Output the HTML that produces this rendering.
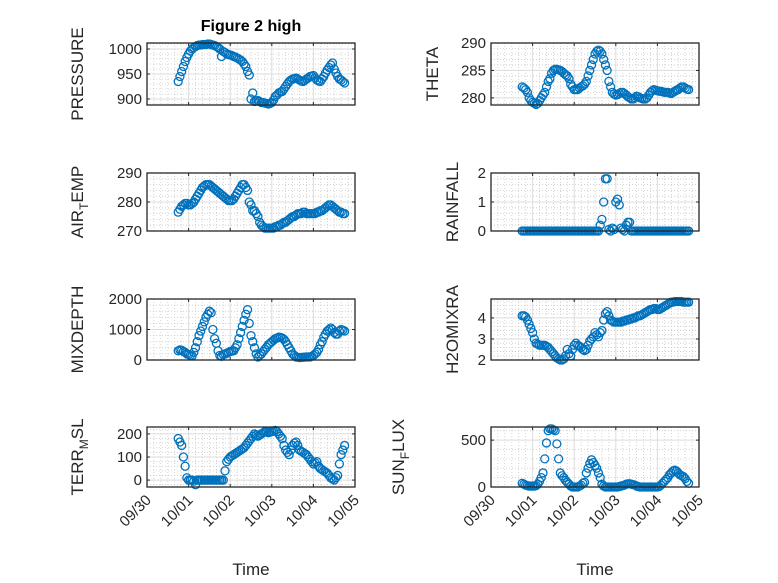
<!DOCTYPE html>
<html><head><meta charset="utf-8">
<style>
html,body{margin:0;padding:0;background:#fff;}
svg{display:block;font-family:"Liberation Sans","DejaVu Sans",sans-serif;}
</style></head>
<body>
<svg id="fig" width="778" height="583" viewBox="0 0 778 583" xmlns="http://www.w3.org/2000/svg">
<rect width="778" height="583" fill="#fff"/>
<text x="251" y="31" text-anchor="middle" font-size="16" font-weight="bold" fill="#000">Figure 2 high</text>
<text x="251" y="575" text-anchor="middle" font-size="17" fill="#262626">Time</text>
<text x="595" y="575" text-anchor="middle" font-size="17" fill="#262626">Time</text>
</svg>
<script>
// time in days since 09/30; hourly samples spanning startDay..endDay
const startDay = 0.75;
const endDay = 4.75;
const xTickLabels = ["09/30","10/01","10/02","10/03","10/04","10/05"];
const pressure = [935,945,955,965,975,983,990,996,1000,1003,1005,1007,1008,1008,1009,1009,1009,1010,1010,1009,1008,1007,1005,1003,1000,985,995,993,990,989,988,987,985,984,982,980,978,975,970,965,955,948,900,912,895,896,897,895,893,893,892,891,890,891,893,898,905,908,912,914,915,920,925,930,935,938,940,941,942,940,938,936,935,937,940,942,945,946,947,942,938,936,935,940,945,952,958,963,968,972,960,952,945,940,938,935,932];
const airTemp = [276.5,277.5,278.5,279,279.5,279.5,279,279,279.5,280,281,282,283,284,285,285.5,286,286,286,285.5,285,284.5,284,283.5,283,282.5,282,281.5,281,280.5,280.5,280.5,281,282,283,284,285,286,286,285,284,280,279,277,277,276,275,273,272,271.5,271,271,271,271,271,271,271.5,271.5,272,272,272.5,273,273,273.5,274,274.5,275,275,275.5,276,276,276,276.5,276.5,276,276,276,276,276,276,276.5,276.5,277,277,277.5,278,278.5,279,279,278.5,278,277.5,277,276.5,276.5,276,276];
const mixDepth = [300,330,320,280,250,200,180,150,130,250,400,600,800,950,1100,1250,1400,1500,1600,1550,1000,700,550,300,150,120,180,200,220,250,280,290,300,400,500,700,900,1100,1300,1500,1650,1200,800,600,400,200,100,150,200,280,350,420,500,550,600,650,700,720,750,740,720,680,600,500,400,300,200,150,100,90,80,85,90,95,100,100,100,120,150,200,250,350,500,600,750,850,950,1000,1050,1000,900,850,850,950,1000,980,950];
const terrMsl = [180,165,150,100,60,10,0,0,0,-5,-20,0,0,0,0,0,0,0,0,0,0,0,0,0,0,0,0,40,80,90,100,105,110,115,120,125,130,135,140,150,160,170,180,190,200,195,190,195,200,205,210,208,205,208,210,212,215,210,200,190,180,150,130,120,110,130,150,160,165,150,130,125,120,115,110,100,90,80,70,75,80,60,50,45,40,35,30,20,10,5,0,10,20,70,110,130,150];
const theta = [282,281.8,281.5,281,280,279.5,279.2,279,278.8,279,279.5,280,280.5,281,282,283,283.5,284.5,285,285.2,285.2,285.1,285,284.8,284.5,284.2,284,283.5,282.5,282,281.5,281.5,281.5,281.8,282,282.2,282.5,283,284,285,286,287,288,288.5,288.7,288.5,288,287,286,285,283,282,281,280.7,280.5,280.6,280.8,281,281,280.8,280.5,280.2,280,279.8,279.8,280,280.3,280.2,280,279.9,279.8,279.8,280,280.5,281,281.3,281.5,281.4,281.3,281.2,281.2,281.1,281,281,281,280.9,280.8,281,281.2,281.4,281.5,281.8,282,282,281.8,281.6,281.5];
const rainfall = [0,0,0,0,0,0,0,0,0,0,0,0,0,0,0,0,0,0,0,0,0,0,0,0,0,0,0,0,0,0,0,0,0,0,0,0,0,0,0,0,0,0,0,0,0,0.2,0.4,1.0,1.8,1.8,0.05,0,0.1,0.05,1.0,1.1,0.9,0.1,0.05,0,0.2,0.3,0.3,0,0,0,0,0,0,0,0,0,0,0,0,0,0,0,0,0,0,0,0,0,0,0,0,0,0,0,0,0,0,0,0,0,0];
const h2oMix = [4.1,4.1,4.05,3.9,3.7,3.5,3.3,3.0,2.8,2.75,2.7,2.7,2.7,2.7,2.65,2.6,2.5,2.4,2.3,2.2,2.1,2.05,2.0,2.0,2.05,2.2,2.5,2.3,2.2,2.5,2.7,2.8,2.7,2.65,2.6,2.5,2.45,2.5,2.7,2.9,3.0,3.1,3.3,3.2,3.1,3.3,3.4,3.9,4.2,4.3,4.1,3.9,3.85,3.8,3.8,3.8,3.8,3.8,3.85,3.85,3.9,3.9,3.95,3.95,4.0,4.0,4.05,4.1,4.1,4.15,4.2,4.25,4.3,4.35,4.4,4.4,4.45,4.45,4.4,4.4,4.45,4.5,4.55,4.6,4.65,4.7,4.75,4.75,4.78,4.78,4.78,4.78,4.78,4.75,4.75,4.75,4.75];
const sunFlux = [40,30,20,15,10,10,10,10,15,30,60,100,150,300,470,600,620,620,610,600,460,300,150,120,100,70,50,30,10,0,0,0,0,10,20,40,50,150,200,250,290,260,230,200,150,100,30,10,0,0,0,0,0,0,0,0,5,10,15,20,30,35,35,30,25,20,10,5,0,0,0,0,0,0,0,0,0,0,0,5,20,40,60,80,100,130,150,170,180,170,150,130,120,110,90,60,40];

const NS="http://www.w3.org/2000/svg";
const svg=document.getElementById('fig');
function mk(tag,attrs,parent){const e=document.createElementNS(NS,tag);for(const k in attrs)e.setAttribute(k,attrs[k]);(parent||svg).appendChild(e);return e;}

const panels=[
 {name:"pressure",data:pressure,x0:147,x1:355,y0:43,y1:105,ymin:888,ymax:1012,ticks:[900,950,1000],minor:10,lab:["PRESSURE"],lx:77},
 {name:"theta",data:theta,x0:491,x1:699,y0:43,y1:105,ymin:278.7,ymax:290,ticks:[280,285,290],minor:1,lab:["THETA"],lx:432},
 {name:"air-temp",data:airTemp,x0:147,x1:355,y0:173,y1:231,ymin:270,ymax:290,ticks:[270,280,290],minor:2,lab:["AIR","T","EMP"],lx:77},
 {name:"rainfall",data:rainfall,x0:491,x1:699,y0:173,y1:231,ymin:0,ymax:2,ticks:[0,1,2],minor:0.2,lab:["RAINFALL"],lx:452},
 {name:"mixdepth",data:mixDepth,x0:147,x1:355,y0:299,y1:360,ymin:0,ymax:2000,ticks:[0,1000,2000],minor:200,lab:["MIXDEPTH"],lx:77},
 {name:"h2omixra",data:h2oMix,x0:491,x1:699,y0:299,y1:360,ymin:2,ymax:4.9,ticks:[2,3,4],minor:0.2,lab:["H2OMIXRA"],lx:452},
 {name:"terr-msl",data:terrMsl,x0:147,x1:355,y0:427,y1:487,ymin:-30,ymax:230,ticks:[0,100,200],minor:20,lab:["TERR","M","SL"],lx:77,xt:true},
 {name:"sun-flux",data:sunFlux,x0:491,x1:699,y0:427,y1:487,ymin:0,ymax:640,ticks:[0,500],minor:100,lab:["SUN","F","LUX"],lx:398,xt:true}
];

panels.forEach(p=>{
  const g=mk('g',{});
  
  
  const X=d=>p.x0+(d/5)*(p.x1-p.x0);
  const Y=v=>p.y1-(v-p.ymin)/(p.ymax-p.ymin)*(p.y1-p.y0);
  for(let i=1;i<30;i++){ if(i%6===0)continue; const x=X(i/6);
    mk('line',{x1:x,x2:x,y1:p.y0,y2:p.y1,stroke:"#c8c8c8","stroke-width":0.8,"stroke-dasharray":"1,2"},g);}
  const m0=Math.ceil(p.ymin/p.minor-1e-9);
  for(let k=m0;k*p.minor<=p.ymax+1e-9;k++){const v=k*p.minor; if(p.ticks.some(t=>Math.abs(t-v)<1e-6))continue; const y=Y(v);
    mk('line',{x1:p.x0,x2:p.x1,y1:y,y2:y,stroke:"#c8c8c8","stroke-width":0.8,"stroke-dasharray":"1,2"},g);}
  for(let i=1;i<5;i++){const x=X(i); mk('line',{x1:x,x2:x,y1:p.y0,y2:p.y1,stroke:"#dcdcdc","stroke-width":1},g);
    mk('line',{x1:x,x2:x,y1:p.y1,y2:p.y1-3,stroke:"#262626","stroke-width":1},g);
    mk('line',{x1:x,x2:x,y1:p.y0,y2:p.y0+3,stroke:"#262626","stroke-width":1},g);}
  p.ticks.forEach(v=>{const y=Y(v);
    mk('line',{x1:p.x0,x2:p.x1,y1:y,y2:y,stroke:"#dcdcdc","stroke-width":1},g);
    mk('line',{x1:p.x0,x2:p.x0+3,y1:y,y2:y,stroke:"#262626","stroke-width":1},g);
    mk('line',{x1:p.x1,x2:p.x1-3,y1:y,y2:y,stroke:"#262626","stroke-width":1},g);
    const t=mk('text',{x:p.x0-5,y:y+5,"text-anchor":"end","font-size":15,fill:"#262626"},g);
    
    
    t.textContent=String(v);
  });
  const n=p.data.length;
  const step=(endDay-startDay)/(n-1);
  p.data.forEach((v,i)=>{
    const c=mk('circle',{cx:X(startDay+i*step),cy:Y(v),r:4,fill:"none",stroke:"#0072BD","stroke-width":1.3},g);
    
    
  });
  mk('rect',{x:p.x0,y:p.y0,width:p.x1-p.x0,height:p.y1-p.y0,fill:"none",stroke:"#262626","stroke-width":1.3},g);
  const cy=(p.y0+p.y1)/2;
  const yl=mk('text',{x:0,y:0,"text-anchor":"middle","font-size":17,fill:"#262626",transform:`translate(${p.lx+6},${cy}) rotate(-90)`},g);
  
  
  if(p.lab.length===1){yl.textContent=p.lab[0];}
  else{
    const a=mk('tspan',{},yl);a.textContent=p.lab[0];
    const b=mk('tspan',{dy:5,"font-size":12},yl);b.textContent=p.lab[1];
    const c=mk('tspan',{dy:-5},yl);c.textContent=p.lab[2];
  }
  if(p.xt){
    xTickLabels.forEach((s,i)=>{const x=X(i);
      const t=mk('text',{x:0,y:0,"text-anchor":"end","font-size":15,fill:"#262626",transform:`translate(${x+5},${p.y1+14}) rotate(-45)`},g);
      
      
      t.textContent=s;});
  }
});
</script>
</body></html>
